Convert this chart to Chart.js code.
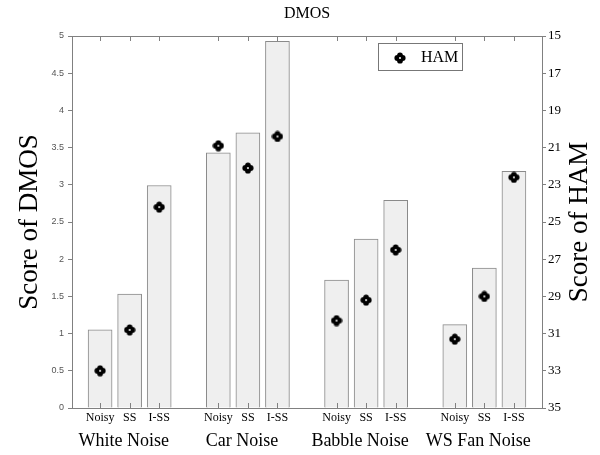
<!DOCTYPE html>
<html>
<head>
<meta charset="utf-8">
<script src="https://cdn.jsdelivr.net/npm/chart.js@4.4.1/dist/chart.umd.min.js"></script>
<style>
    html, body { margin: 0; padding: 0; background: #fff; }
    #wrap { width: 600px; height: 455px; }
</style>
</head>
<body>
<div id="wrap"><canvas id="chart"></canvas></div>
<script>
const groups = ['White Noise', 'Car Noise', 'Babble Noise', 'WS Fan Noise'];
const methods = ['Noisy', 'SS', 'I-SS'];
// values per bar, group by group (Noisy, SS, I-SS)
const dmosValues = [1.05, 1.53, 2.99, 3.43, 3.70, 4.93, 1.72, 2.27, 2.79, 1.12, 1.88, 3.18];
const hamValues = [33.0, 30.8, 24.2, 20.9, 22.1, 20.4, 30.3, 29.2, 26.5, 31.3, 29.0, 22.6];
const dmosTicks = [0, 0.5, 1, 1.5, 2, 2.5, 3, 3.5, 4, 4.5, 5];
const hamTicks = [15, 17, 19, 21, 23, 25, 27, 29, 31, 33, 35];

const serif = '"Liberation Serif", "DejaVu Serif", serif';
const sans = '"Liberation Sans", Arial, sans-serif';

// slot on the x axis: one empty slot between groups
const slots = [];
const slotLabels = {};
groups.forEach((g, gi) => {
    methods.forEach((m, mi) => {
        const x = gi * 4 + mi;
        slots.push(x);
        slotLabels[x] = m;
    });
});

function hamMarker() {
    const c = document.createElement('canvas');
    c.width = 12; c.height = 12;
    const g = c.getContext('2d');
    g.fillStyle = '#000';
    [[6, 3.3], [6, 8.7], [3.3, 6], [8.7, 6], [6, 6]].forEach(([x, y]) => {
        g.beginPath(); g.arc(x, y, 2.9, 0, Math.PI * 2); g.fill();
    });
    g.fillStyle = '#fff';
    g.beginPath(); g.arc(6, 6, 1.0, 0, Math.PI * 2); g.fill();
    return c;
}
const marker = hamMarker();

const decorations = {
    id: 'decorations',
    afterDraw(chart) {
        const { ctx, chartArea: a, scales } = chart;
        const x = scales.x;
        ctx.save();
        // frame
        ctx.strokeStyle = '#808080';
        ctx.lineWidth = 1;
        ctx.strokeRect(a.left + 0.5, a.top + 0.5, a.right - a.left, a.bottom - a.top);
        // inward ticks at bar centres, top and bottom
        slots.forEach(v => {
            const px = Math.round(x.getPixelForValue(v)) + 0.5;
            ctx.beginPath();
            ctx.moveTo(px, a.bottom); ctx.lineTo(px, a.bottom - 5);
            ctx.moveTo(px, a.top); ctx.lineTo(px, a.top + 5);
            ctx.stroke();
        });
        // group names
        ctx.fillStyle = '#000';
        ctx.font = '18px ' + serif;
        ctx.textAlign = 'center';
        ctx.textBaseline = 'middle';
        groups.forEach((g, gi) => {
            ctx.fillText(g, x.getPixelForValue(gi * 4 + 1) - 6, 441);
        });
        // axis titles
        ctx.font = '27px ' + serif;
        ctx.translate(30, (a.top + a.bottom) / 2);
        ctx.rotate(-Math.PI / 2);
        ctx.fillText('Score of DMOS', 0, 0);
        ctx.setTransform(1, 0, 0, 1, 0, 0);
        ctx.translate(580, (a.top + a.bottom) / 2);
        ctx.rotate(-Math.PI / 2);
        ctx.fillText('Score of HAM', 0, 0);
        ctx.setTransform(1, 0, 0, 1, 0, 0);
        // legend
        ctx.strokeStyle = '#777';
        ctx.strokeRect(378.5, 43.5, 84, 27);
        ctx.drawImage(marker, 394, 52);
        ctx.font = '16px ' + serif;
        ctx.textAlign = 'left';
        ctx.fillText('HAM', 421, 58);
        ctx.restore();
    }
};

new Chart(document.getElementById('chart'), {
    type: 'bar',
    data: {
        datasets: [
            {
                label: 'DMOS',
                data: dmosValues.map((v, i) => ({ x: slots[i], y: v })),
                backgroundColor: '#efefef',
                borderColor: '#8a8a8a',
                borderWidth: 1,
                borderSkipped: 'start',
                barThickness: 24,
                yAxisID: 'y',
                order: 2,
            },
            {
                type: 'scatter',
                label: 'HAM',
                data: hamValues.map((v, i) => ({ x: slots[i], y: v })),
                pointStyle: marker,
                yAxisID: 'y2',
                order: 1,
            },
        ],
    },
    options: {
        responsive: true,
        maintainAspectRatio: false,
        animation: false,
        layout: { padding: 0 },
        plugins: {
            legend: { display: false },
            tooltip: { enabled: false },
            title: {
                display: true,
                fullSize: false,
                text: 'DMOS',
                color: '#000',
                font: { family: serif, size: 16, weight: 'normal' },
                padding: { top: 4, bottom: 12.8 },
            },
        },
        scales: {
            x: {
                type: 'linear',
                offset: false,
                min: -0.95,
                max: 14.95,
                afterBuildTicks: s => { s.ticks = slots.map(v => ({ value: v })); },
                afterFit: s => { s.height = 47; },
                ticks: {
                    autoSkip: false,
                    maxRotation: 0,
                    color: '#000',
                    font: { family: serif, size: 12 },
                    padding: 3,
                    callback: v => slotLabels[v] || '',
                },
                grid: { display: false, drawTicks: false },
                border: { display: false },
            },
            y: {
                position: 'left',
                min: 0,
                max: 5,
                afterBuildTicks: s => { s.ticks = dmosTicks.map(v => ({ value: v })); },
                afterFit: s => { s.width = 72; },
                ticks: {
                    color: '#555',
                    font: { family: sans, size: 9 },
                    padding: 4,
                    callback: v => String(v),
                },
                grid: { drawOnChartArea: false, tickLength: 4, color: '#808080' },
                border: { display: false },
            },
            y2: {
                position: 'right',
                reverse: true,
                min: 15,
                max: 35,
                afterBuildTicks: s => { s.ticks = hamTicks.map(v => ({ value: v })); },
                afterFit: s => { s.width = 58; },
                ticks: {
                    color: '#000',
                    font: { family: serif, size: 13 },
                    padding: 2,
                },
                grid: { drawOnChartArea: false, tickLength: 4, color: '#808080' },
                border: { display: false },
            },
        },
    },
    plugins: [decorations],
});
</script>
</body>
</html>
